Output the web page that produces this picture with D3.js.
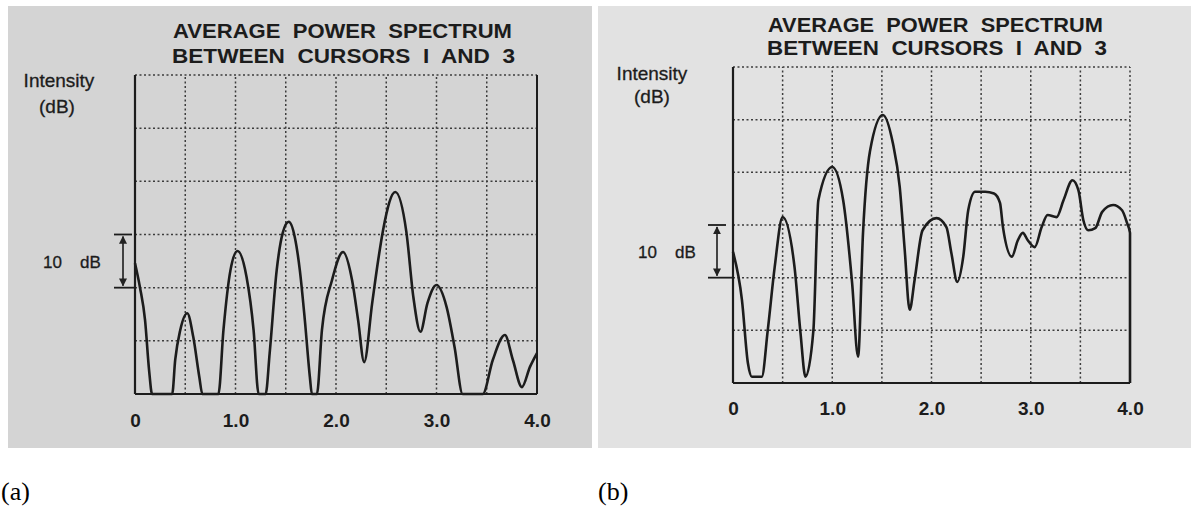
<!DOCTYPE html>
<html>
<head>
<meta charset="utf-8">
<script src="https://cdn.jsdelivr.net/npm/d3@7"></script>
<style>
  html, body { margin: 0; padding: 0; background: #fff; }
  svg { display: block; }
  svg text { white-space: pre; }
</style>
</head>
<body>
<svg id="chart" width="1191" height="516"></svg>
<script>
// Frequency axis ticks and intensity grid (dB, relative)
const freqTicks = [0, 1, 2, 3, 4];
const freqTickLabels = ["0", "1.0", "2.0", "3.0", "4.0"];
const freqGrid = [0, 0.5, 1, 1.5, 2, 2.5, 3, 3.5, 4];
const levelGrid = [0, 10, 20, 30, 40, 50, 60];

const titleLines = ["AVERAGE  POWER  SPECTRUM", "BETWEEN  CURSORS  I  AND  3"];
const yLabelLines = ["Intensity", "(dB)"];
const scaleBarNumber = "10";
const scaleBarUnit = "dB";
const panelTags = ["(a)", "(b)"];

// Spectrum (a)
const freqA = [0, 0.05, 0.10, 0.14, 0.17, 0.37, 0.40, 0.45, 0.52, 0.58, 0.64, 0.67,
  0.83, 0.88, 0.95, 1.02, 1.11, 1.18, 1.23, 1.30, 1.34, 1.41, 1.47, 1.53, 1.59, 1.64,
  1.69, 1.74, 1.76, 1.81, 1.86, 1.96, 2.07, 2.16, 2.22, 2.28, 2.36, 2.42, 2.47, 2.59,
  2.70, 2.77, 2.84, 2.91, 3.00, 3.10, 3.18, 3.26, 3.46, 3.56, 3.68, 3.76, 3.85, 3.93, 4.00];
const levelA = [24.6, 20, 13.9, 4.5, 0, 0, 6.4, 12, 15.2, 10.7, 3.2, 0,
  0, 12, 23.3, 26.9, 22, 12, 0, 0, 7.7, 23.3, 30.3, 32.4, 29.5, 23.3,
  13.9, 3.2, 0, 0, 12, 21.4, 26.7, 21.4, 13.9, 6.0, 17.1, 25.2, 31.0, 38.0,
  30.5, 18.2, 11.7, 17.1, 20.5, 16.4, 8.8, 0, 0, 6.4, 11.1, 6.4, 1.3, 5.1, 7.7];

// Spectrum (b)
const freqB = [0, 0.09, 0.15, 0.19, 0.29, 0.35, 0.42, 0.50, 0.62, 0.68, 0.73, 0.81,
  0.86, 1.00, 1.11, 1.20, 1.26, 1.31, 1.38, 1.51, 1.61, 1.68, 1.73, 1.78, 1.83, 1.91,
  2.05, 2.15, 2.20, 2.26, 2.32, 2.37, 2.44, 2.54, 2.63, 2.69, 2.72, 2.81, 2.87, 2.92,
  2.97, 3.04, 3.11, 3.17, 3.26, 3.33, 3.42, 3.48, 3.53, 3.58, 3.65, 3.72, 3.83, 3.92,
  3.97, 4.00, 4.00];
const levelB = [24.9, 15.8, 3.8, 1.2, 1.2, 10, 22, 31.5, 22, 9.5, 1.2, 10,
  34.7, 41, 34.7, 19, 5.0, 28.5, 44, 50.9, 45.6, 37.2, 25.3, 13.9, 19.6, 29,
  31.3, 29.6, 24.7, 19.2, 24, 32.8, 36.3, 36.3, 36, 34.2, 29.6, 24, 27.1, 28.5,
  27.1, 25.8, 29.6, 31.9, 31.5, 34.7, 38.5, 36.6, 30.9, 29, 29.4, 32.5, 33.8, 32.8,
  30.4, 28.5, 0];

const svg = d3.select("#chart");
svg.append("rect").attr("width", 1191).attr("height", 516).attr("fill", "#fff");

const panels = [
  {
    freq: freqA, level: levelA, bg: "#d4d4d4",
    box: [8, 6, 584, 442],
    plot: { x0: 135, x1: 537, y0: 394, y1: 75 },
    title: [{ x: 173, w: 339, y: 38 }, { x: 172, w: 343, y: 63 }],
    ylab: [{ x: 59, y: 87 }, { x: 57, y: 113 }],
    bar: { x: 123, num: 43, unit: 80, y: 268 },
    tickY: 427, rightSolid: true,
    tag: { x: 1, y: 500 }
  },
  {
    freq: freqB, level: levelB, bg: "#e2e2e2",
    box: [598, 6, 593, 442],
    plot: { x0: 733, x1: 1130, y0: 383, y1: 67 },
    title: [{ x: 768, w: 335, y: 32 }, { x: 767, w: 340, y: 55 }],
    ylab: [{ x: 652, y: 80 }, { x: 652, y: 103 }],
    bar: { x: 717, num: 638, unit: 675, y: 258 },
    tickY: 415, rightSolid: false,
    tag: { x: 598, y: 500 }
  }
];

const defs = svg.append("defs");
defs.append("marker")
  .attr("id", "arrowHead")
  .attr("viewBox", "0 0 10 10")
  .attr("refX", 9).attr("refY", 5)
  .attr("markerWidth", 5).attr("markerHeight", 5)
  .attr("orient", "auto-start-reverse")
  .append("path").attr("d", "M0,0L10,5L0,10Z").attr("fill", "#222");

const ink = "#1c1c1c";
const gridInk = "#3c3c3c";
const sans = "'Liberation Sans', Arial, sans-serif";

panels.forEach((p, i) => {
  const g = svg.append("g");

  g.append("rect")
    .attr("x", p.box[0]).attr("y", p.box[1])
    .attr("width", p.box[2]).attr("height", p.box[3])
    .attr("fill", p.bg);

  const x = d3.scaleLinear().domain([0, 4]).range([p.plot.x0, p.plot.x1]);
  const y = d3.scaleLinear().domain([0, 60]).range([p.plot.y0, p.plot.y1]);

  // dotted grid
  g.append("g").selectAll("line").data(freqGrid.slice(1, -1)).join("line")
    .attr("x1", d => x(d)).attr("x2", d => x(d))
    .attr("y1", y(0)).attr("y2", y(60))
    .attr("stroke", gridInk).attr("stroke-width", 1.5)
    .attr("stroke-dasharray", "2,2.5");
  g.append("g").selectAll("line").data(levelGrid.slice(1)).join("line")
    .attr("x1", x(0)).attr("x2", x(4))
    .attr("y1", d => y(d)).attr("y2", d => y(d))
    .attr("stroke", gridInk).attr("stroke-width", 1.5)
    .attr("stroke-dasharray", "2,2.5");
  g.append("line")
    .attr("x1", x(4)).attr("x2", x(4)).attr("y1", y(0)).attr("y2", y(60))
    .attr("stroke", p.rightSolid ? ink : gridInk)
    .attr("stroke-width", p.rightSolid ? 2 : 1.5)
    .attr("stroke-dasharray", p.rightSolid ? null : "2,2.5");

  // solid left and bottom axes
  g.append("line")
    .attr("x1", x(0)).attr("x2", x(0)).attr("y1", y(0)).attr("y2", y(60))
    .attr("stroke", ink).attr("stroke-width", 2.2);
  g.append("line")
    .attr("x1", x(0)).attr("x2", x(4)).attr("y1", y(0)).attr("y2", y(0))
    .attr("stroke", ink).attr("stroke-width", 2.2);

  // frequency tick labels
  const axis = d3.axisBottom(x)
    .tickValues(freqTicks)
    .tickFormat((d, k) => freqTickLabels[k])
    .tickSize(0);
  const ag = g.append("g").attr("transform", `translate(0,${p.tickY})`).call(axis);
  ag.select(".domain").remove();
  ag.selectAll("text")
    .attr("y", 0).attr("dy", null)
    .attr("fill", ink)
    .attr("font-family", sans)
    .attr("font-weight", "bold")
    .attr("font-size", 19);

  // spectrum trace
  const pts = p.freq.map((f, k) => [f, p.level[k]]);
  g.append("path")
    .datum(pts)
    .attr("d", d3.line().x(d => x(d[0])).y(d => y(d[1])).curve(d3.curveMonotoneX))
    .attr("fill", "none")
    .attr("stroke", ink)
    .attr("stroke-width", 2.6)
    .attr("stroke-linejoin", "round");

  // title
  titleLines.forEach((t, k) => {
    g.append("text")
      .attr("x", p.title[k].x).attr("y", p.title[k].y)
      .attr("textLength", p.title[k].w).attr("lengthAdjust", "spacingAndGlyphs")
      .attr("font-family", sans)
      .attr("font-weight", "bold").attr("font-size", 20)
      .attr("fill", ink)
      .text(t);
  });

  // y label
  yLabelLines.forEach((t, k) => {
    g.append("text")
      .attr("x", p.ylab[k].x).attr("y", p.ylab[k].y)
      .attr("text-anchor", "middle")
      .attr("font-family", sans)
      .attr("font-size", 19)
      .attr("fill", ink).attr("stroke", ink).attr("stroke-width", 0.3)
      .text(t);
  });

  // 10 dB scale bar
  const top = y(30), bot = y(20);
  g.append("line")
    .attr("x1", p.bar.x - 9).attr("x2", p.bar.x + 9)
    .attr("y1", top).attr("y2", top)
    .attr("stroke", ink).attr("stroke-width", 1.8);
  g.append("line")
    .attr("x1", p.bar.x - 9).attr("x2", x(0))
    .attr("y1", bot).attr("y2", bot)
    .attr("stroke", ink).attr("stroke-width", 1.8);
  g.append("line")
    .attr("x1", p.bar.x).attr("x2", p.bar.x)
    .attr("y1", top + 2).attr("y2", bot - 2)
    .attr("stroke", ink).attr("stroke-width", 1.6)
    .attr("marker-start", "url(#arrowHead)")
    .attr("marker-end", "url(#arrowHead)");
  [[scaleBarNumber, p.bar.num], [scaleBarUnit, p.bar.unit]].forEach(([t, tx]) => {
    g.append("text")
      .attr("x", tx).attr("y", p.bar.y)
      .attr("font-family", sans)
      .attr("font-size", 17)
      .attr("fill", ink).attr("stroke", ink).attr("stroke-width", 0.3)
      .text(t);
  });

  // panel tag
  g.append("text")
    .attr("x", p.tag.x).attr("y", p.tag.y)
    .attr("font-family", "'Liberation Serif', 'Times New Roman', serif")
    .attr("font-size", 26)
    .attr("fill", "#000")
    .text(panelTags[i]);
});
</script>
</body>
</html>
